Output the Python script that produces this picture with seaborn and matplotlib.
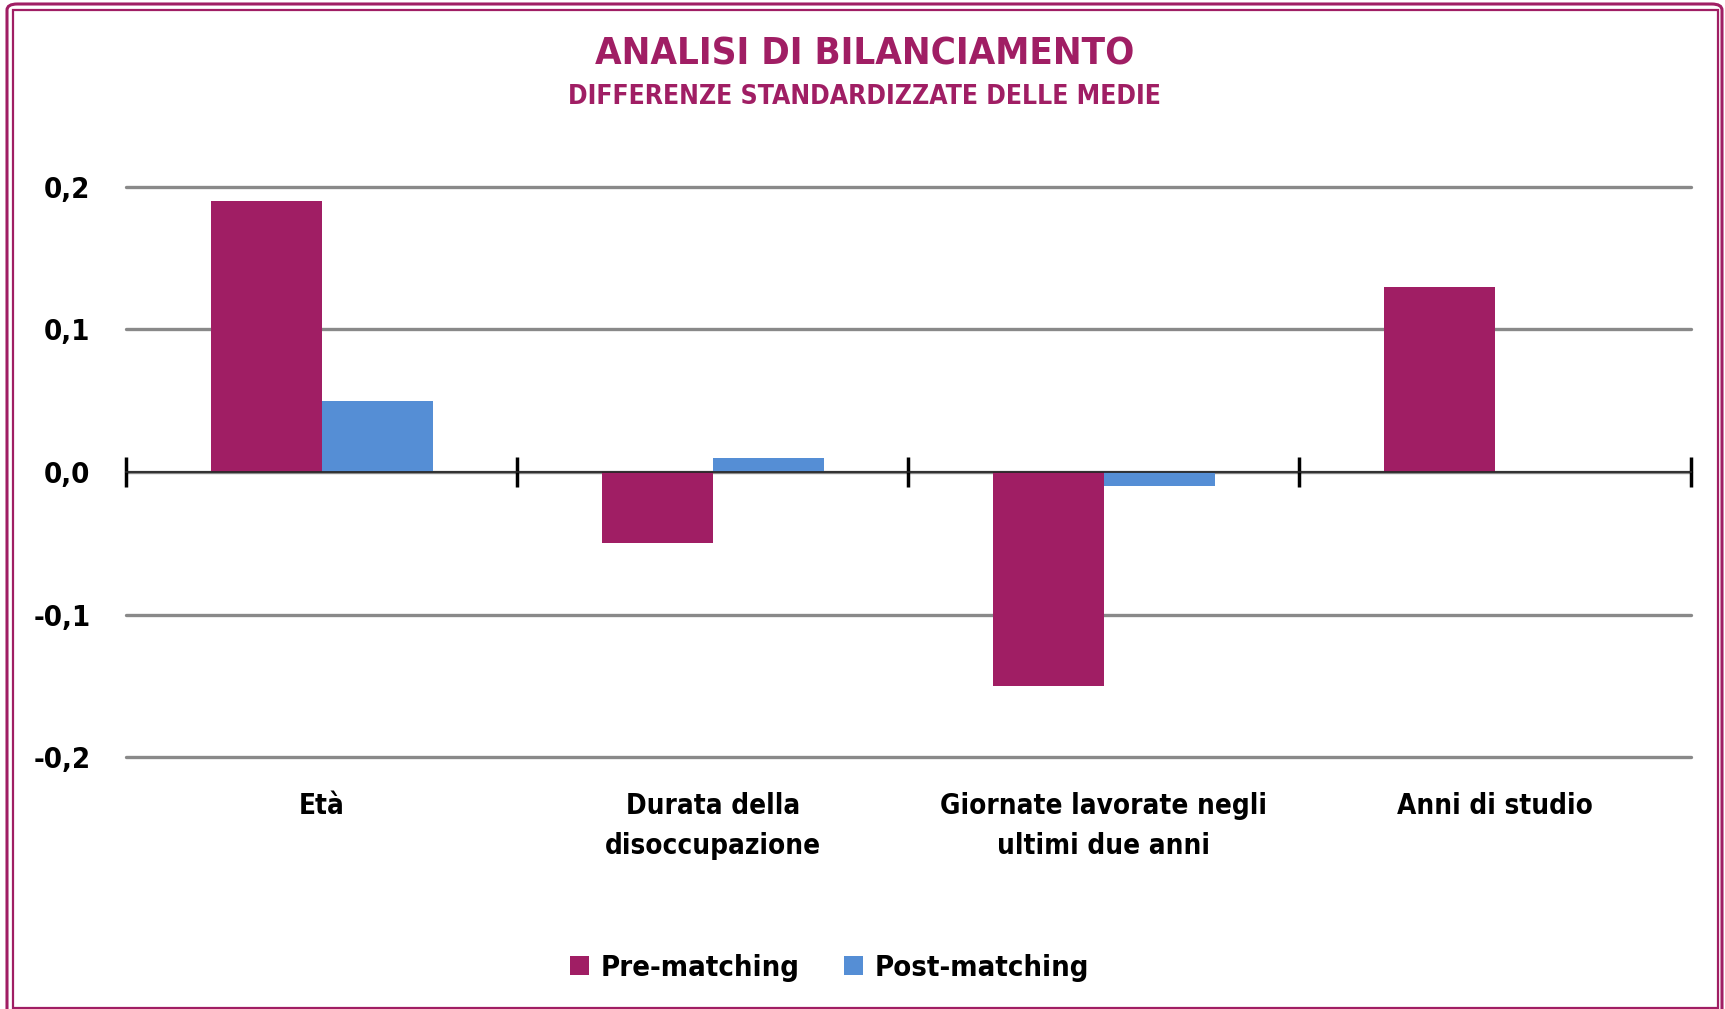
import pandas as pd
import seaborn as sns
import matplotlib.pyplot as plt
from matplotlib.patches import Rectangle, FancyBboxPatch

# data
categories = ["Età", "Durata della\ndisoccupazione",
              "Giornate lavorate negli\nultimi due anni", "Anni di studio"]
pre_matching = [0.19, -0.05, -0.15, 0.13]
post_matching = [0.05, 0.01, -0.01, 0.0]
series_names = ["Pre-matching", "Post-matching"]
y_ticks = [-0.2, -0.1, 0.0, 0.1, 0.2]

MAGENTA = "#A01E64"
BLUE = "#558ED5"
GRID = "#898989"

df = pd.DataFrame({
    "Categoria": categories * 2,
    "Serie": [series_names[0]] * 4 + [series_names[1]] * 4,
    "Valore": pre_matching + post_matching,
})

sns.set_theme(style="white")
plt.rcParams["font.family"] = ["DejaVu Sans", "Liberation Sans"]
plt.rcParams["font.stretch"] = "condensed"
plt.rcParams["font.weight"] = "bold"
plt.rcParams["text.color"] = "black"

fig = plt.figure(figsize=(17.25, 10.09), dpi=100)
ax = fig.add_axes([0.0733, 0.2497, 0.9067, 0.565])

sns.barplot(data=df, x="Categoria", y="Valore", hue="Serie",
            palette=[MAGENTA, BLUE], width=0.57, gap=0, saturation=1,
            linewidth=0, ax=ax, legend=True, zorder=3)

ax.set_ylim(-0.2, 0.2)
ax.set_xlim(-0.5, len(categories) - 0.5)
ax.set_yticks(y_ticks)
ax.set_yticklabels([f"{v:.1f}".replace(".", ",") for v in y_ticks])
ax.yaxis.grid(True, color=GRID, linewidth=2.4, zorder=0)
for gl in ax.get_ygridlines():
    gl.set_clip_on(False)
ax.set_axisbelow(True)
for s in ax.spines.values():
    s.set_visible(False)
ax.set_xlabel("")
ax.set_ylabel("")
ax.tick_params(axis="y", length=0, pad=26, labelsize=21, labelcolor="black")
ax.tick_params(axis="x", length=0, pad=25, labelsize=20, labelcolor="black")
for lbl in ax.get_xticklabels() + ax.get_yticklabels():
    lbl.set_fontweight("bold")
for lbl in ax.get_xticklabels():
    lbl.set_linespacing(1.55)

# zero line with cross ticks at category boundaries
sec = ax.secondary_xaxis(0.5)
sec.set_zorder(5)
sec.set_xticks([i - 0.5 for i in range(len(categories) + 1)])
sec.set_xticklabels([])
sec.tick_params(direction="inout", length=22, width=2.5, color="black")
sec.spines["bottom"].set_linewidth(3)
sec.spines["bottom"].set_color("black")

# legend
handles, labels = ax.get_legend_handles_labels()
ax.legend_.remove()
fig.legend(handles, labels, loc="center", bbox_to_anchor=(0.481, 0.041),
           ncol=2, frameon=False, handlelength=0.65, handleheight=0.65,
           columnspacing=1.5, handletextpad=0.4,
           prop={"size": 21, "weight": "bold", "stretch": "condensed"})

# titles
fig.text(0.501, 0.946, "ANALISI DI BILANCIAMENTO", ha="center", va="center",
         color=MAGENTA, fontsize=27.5, fontweight="bold")
fig.text(0.501, 0.904, "DIFFERENZE STANDARDIZZATE DELLE MEDIE", ha="center",
         va="center", color=MAGENTA, fontsize=19, fontweight="bold")

# double frame around the figure
W, H = 1725, 1009
fig.patches.append(FancyBboxPatch((7 / W, -0.02), 1 - 10 / W, 1 - 4 / H + 0.02,
                                  boxstyle="round,pad=0,rounding_size=0.006",
                                  transform=fig.transFigure, fill=False,
                                  edgecolor=MAGENTA, linewidth=2.2))
fig.patches.append(Rectangle((12.5 / W, 1.5 / H), 1 - 20 / W, 1 - 11 / H,
                             transform=fig.transFigure, fill=False,
                             edgecolor=MAGENTA, linewidth=1.6))

fig.savefig("out.png", dpi=100)
